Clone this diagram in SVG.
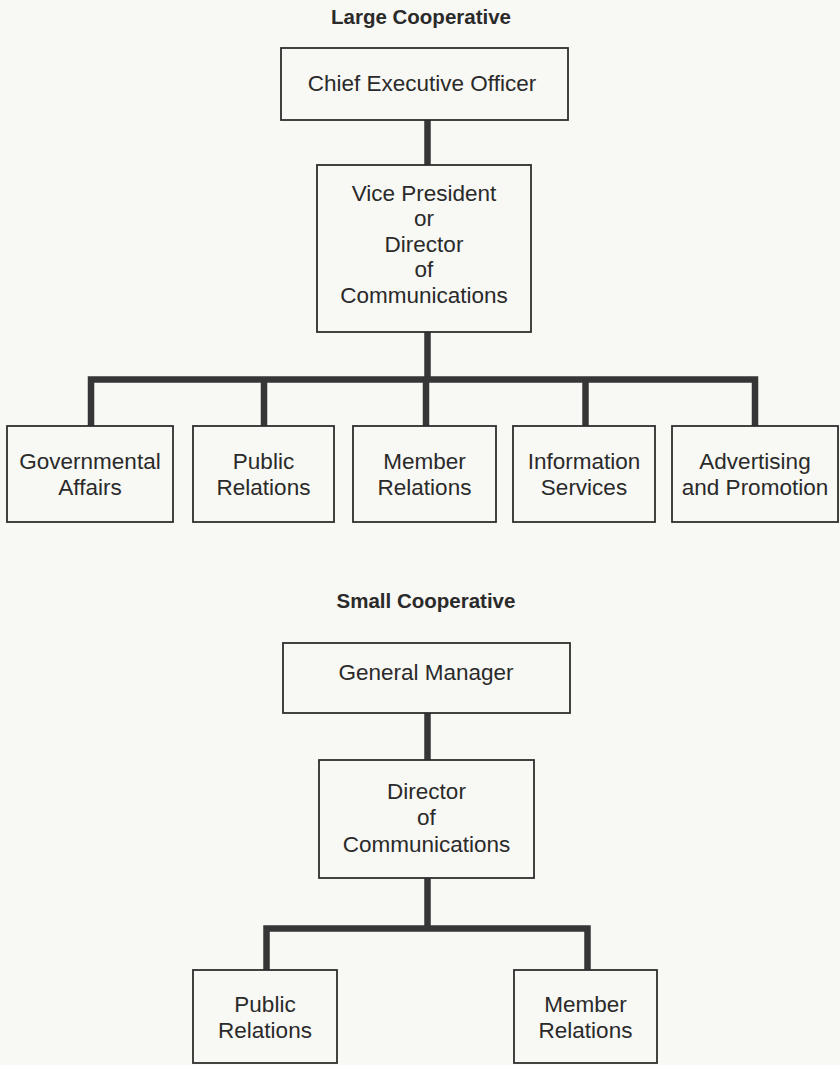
<svg xmlns="http://www.w3.org/2000/svg" width="840" height="1065" viewBox="0 0 840 1065">
<style>
.bg{fill:#f8f8f4}
.box{fill:#f8f8f4;stroke:#2e2e2e;stroke-width:1.8}
.t{font-family:"Liberation Sans",Arial,sans-serif;font-size:22.5px;fill:#2a2a2a;text-anchor:middle}
.h{font-family:"Liberation Sans",Arial,sans-serif;font-size:20.5px;font-weight:bold;fill:#2a2a2a;text-anchor:middle}
.c{fill:none;stroke:#363636;stroke-width:6.5;stroke-linejoin:miter;stroke-linecap:butt}
</style>
<rect class="bg" x="0" y="0" width="840" height="1065"/>
<text class="h" x="421" y="24">Large Cooperative</text>
<text class="h" x="426" y="608">Small Cooperative</text>
<g id="connectors">
<path class="c" d="M427.5,120 V165"/>
<path class="c" d="M427.5,332 V379.5"/>
<path class="c" d="M91,426 V379.5 H755 V426"/>
<path class="c" d="M264,379.5 V426"/>
<path class="c" d="M426,379.5 V426"/>
<path class="c" d="M585.5,379.5 V426"/>
<path class="c" d="M427.5,713 V760"/>
<path class="c" d="M427.5,878 V928.5"/>
<path class="c" d="M266.5,970 V928.5 H587.5 V970"/>
</g>
<g id="ceo">
<rect class="box" x="281" y="48" width="287" height="72"/>
<text class="t" x="422" y="91">Chief Executive Officer</text>
</g>
<g id="vp">
<rect class="box" x="317" y="165" width="214" height="167"/>
<text class="t" x="424" y="201">Vice President</text>
<text class="t" x="424" y="226">or</text>
<text class="t" x="424" y="251.5">Director</text>
<text class="t" x="424" y="277">of</text>
<text class="t" x="424" y="303">Communications</text>
</g>
<g id="gov">
<rect class="box" x="7" y="426" width="166" height="96"/>
<text class="t" x="90" y="468.5">Governmental</text>
<text class="t" x="90" y="495">Affairs</text>
</g>
<g id="pr1">
<rect class="box" x="193" y="426" width="141" height="96"/>
<text class="t" x="263.5" y="468.5">Public</text>
<text class="t" x="263.5" y="495">Relations</text>
</g>
<g id="mr1">
<rect class="box" x="353" y="426" width="143" height="96"/>
<text class="t" x="424.5" y="468.5">Member</text>
<text class="t" x="424.5" y="495">Relations</text>
</g>
<g id="info">
<rect class="box" x="513" y="426" width="142" height="96"/>
<text class="t" x="584" y="468.5">Information</text>
<text class="t" x="584" y="495">Services</text>
</g>
<g id="adv">
<rect class="box" x="672" y="426" width="166" height="96"/>
<text class="t" x="755" y="468.5">Advertising</text>
<text class="t" x="755" y="495">and Promotion</text>
</g>
<g id="gm">
<rect class="box" x="283" y="643" width="287" height="70"/>
<text class="t" x="426" y="680">General Manager</text>
</g>
<g id="dir">
<rect class="box" x="319" y="760" width="215" height="118"/>
<text class="t" x="426.5" y="799">Director</text>
<text class="t" x="426.5" y="825">of</text>
<text class="t" x="426.5" y="852">Communications</text>
</g>
<g id="pr2">
<rect class="box" x="193" y="970" width="144" height="93"/>
<text class="t" x="265" y="1012">Public</text>
<text class="t" x="265" y="1038">Relations</text>
</g>
<g id="mr2">
<rect class="box" x="514" y="970" width="143" height="93"/>
<text class="t" x="585.5" y="1012">Member</text>
<text class="t" x="585.5" y="1038">Relations</text>
</g>
</svg>
